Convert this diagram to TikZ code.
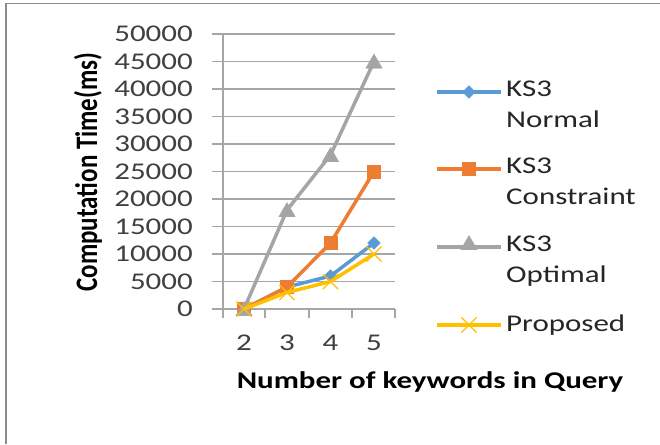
\documentclass[tikz,border=0pt]{standalone}
\usepackage{fontspec}
\setmainfont{Carlito}[FakeStretch=1.29]
\newfontfamily\ytfont{Carlito}
\usetikzlibrary{shapes.geometric,shapes.misc}
\definecolor{sblue}{HTML}{5B9BD5}
\definecolor{sorange}{HTML}{ED7D31}
\definecolor{sgray}{HTML}{A5A5A5}
\definecolor{syellow}{HTML}{FFC000}
\definecolor{gridc}{HTML}{A6A6A6}
\definecolor{framec}{HTML}{8C8C8C}
\definecolor{tickc}{HTML}{404040}
\definecolor{txtc}{HTML}{262626}
\tikzset{
  gridline/.style={gridc, line width=1.3pt},
  ticklab/.style={anchor=east, inner sep=0pt, text=tickc, font=\fontsize{24}{30}\selectfont},
  xlab/.style={anchor=center, inner sep=0pt, text=tickc, font=\fontsize{24}{30}\selectfont},
  legtext/.style={anchor=west, inner sep=0pt, text=txtc, align=left, font=\fontsize{24}{31}\selectfont},
  serie/.style={line width=3.5pt, line join=round, line cap=round},
  legline/.style={line width=3.2pt},
  bmark/.style={diamond, fill=sblue, draw=sblue, inner sep=0pt, minimum width=13pt, minimum height=13pt},
  omark/.style={rectangle, fill=sorange, draw=sorange, inner sep=0pt, minimum size=13pt},
  gmark/.style={regular polygon, regular polygon sides=3, fill=sgray, draw=sgray, inner sep=0pt, minimum size=19pt},
  ymark/.style={cross out, draw=syellow, line width=1.2pt, inner sep=0pt, minimum size=14pt},
}
\begin{document}
\begin{tikzpicture}[x=1pt,y=-1pt]
\useasboundingbox (0,0) rectangle (660,444);
\fill[white] (0,0) rectangle (660,444);
% frame
\coordinate (fa) at (6,444);
\coordinate (fb) at (6,3.5);
\coordinate (fc) at (660,3.5);
\draw[framec, line width=1.5pt] (fa) -- (fb) -- (fc);
% grid lines and y tick labels
\foreach \i in {0,...,10}{
  \coordinate (gl\i) at (212,309-\i*27.5);
  \coordinate (gr\i) at (395,309-\i*27.5);
  \draw[gridline] (gl\i) -- (gr\i);
  \node[ticklab] (yl\i) at (193,309-\i*27.5) {\the\numexpr\i*5000\relax};
}
% axes
\coordinate (ya) at (223,34);
\coordinate (yb) at (223,318);
\draw[gridline] (ya) -- (yb);
\foreach \x [count=\i] in {265,309,352,395}{
  \coordinate (ta\i) at (\x,309);
  \coordinate (tb\i) at (\x,318);
  \draw[gridline] (ta\i) -- (tb\i);
}
% x labels
\node[xlab] (x2) at (244,343) {2};
\node[xlab] (x3) at (287,343) {3};
\node[xlab] (x4) at (330.5,343) {4};
\node[xlab] (x5) at (374,343) {5};
% axis titles
\node[inner sep=0pt, text=black, font=\bfseries\fontsize{24}{30}\selectfont] (xt) at (430,382) {Number of keywords in Query};
\node[inner sep=0pt, text=black, rotate=90] (yt) at (88,172) {\scalebox{1}[1.25]{\ytfont\bfseries\fontsize{25}{30}\selectfont Computation Time(ms)}};
% data points (values in thousands)
\foreach \n/\a/\b/\c/\d in {b/0/4/6/12, o/0/4/12/25, g/0/18/28/45, y/0/3/5/10}{
  \coordinate (\n2) at (244,{309-\a*5.5});
  \coordinate (\n3) at (287,{309-\b*5.5});
  \coordinate (\n4) at (330.5,{309-\c*5.5});
  \coordinate (\n5) at (374,{309-\d*5.5});
}
% series: Normal
\draw[serie, sblue] (b2) -- (b3) -- (b4) -- (b5);
\foreach \k in {2,3,4,5}{\node[bmark] (bm\k) at (b\k) {};}
% Constraint
\draw[serie, sorange] (o2) -- (o3) -- (o4) -- (o5);
\foreach \k in {2,3,4,5}{\node[omark] (om\k) at (o\k) {};}
% Optimal
\draw[serie, sgray] (g2) -- (g3) -- (g4) -- (g5);
\foreach \k in {2,3,4,5}{\node[gmark] (gm\k) at ([yshift=-2pt]g\k) {};}
% Proposed
\draw[serie, syellow] (y2) -- (y3) -- (y4) -- (y5);
\foreach \k in {2,3,4,5}{\node[ymark] (ym\k) at (y\k) {};}
% legend
\coordinate (l1a) at (437,92);  \coordinate (l1b) at (501,92);
\coordinate (l2a) at (437,169); \coordinate (l2b) at (501,169);
\coordinate (l3a) at (437,247); \coordinate (l3b) at (501,247);
\coordinate (l4a) at (437,325); \coordinate (l4b) at (501,325);
\draw[legline, sblue] (l1a) -- (l1b);
\node[bmark] (lm1) at (469,92) {};
\draw[legline, sorange] (l2a) -- (l2b);
\node[omark] (lm2) at (469,169) {};
\draw[legline, sgray] (l3a) -- (l3b);
\node[gmark] (lm3) at (469,245) {};
\draw[legline, syellow] (l4a) -- (l4b);
\node[ymark] (lm4) at (469,325) {};
\node[legtext, anchor=north west] (lt1) at (506,81) {KS3\\Normal};
\node[legtext, anchor=north west] (lt2) at (506,158) {KS3\\Constraint};
\node[legtext, anchor=north west] (lt3) at (506,236) {KS3\\Optimal};
\node[legtext] (lt4) at (506,325) {Proposed};
\end{tikzpicture}
\end{document}
